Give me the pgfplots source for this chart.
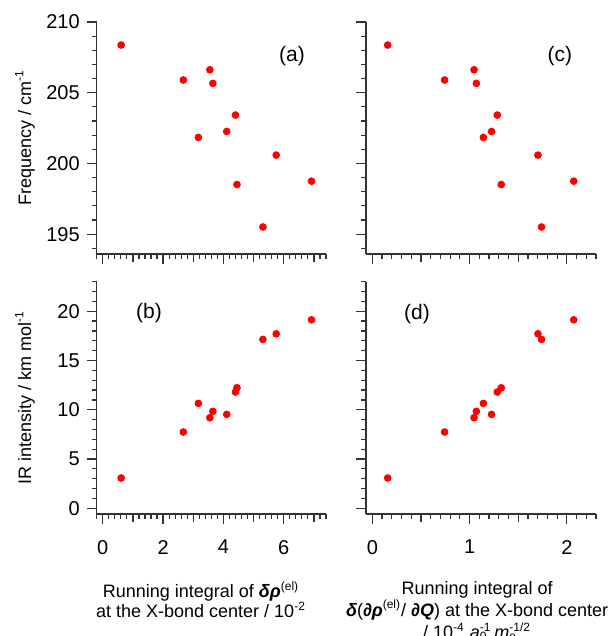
\documentclass[border=0pt]{standalone}
\usepackage{fontspec}
\setmainfont{Liberation Sans}
\usepackage{pgfplots}
\pgfplotsset{compat=1.18}
\usepackage{pgfplotstable}

% running integrals (two kinds), frequency, IR intensity
\pgfplotstableread{
xa   xc     freq    ir
0.61 0.158  208.37  3.07
2.67 0.743  205.90  7.74
3.17 1.142  201.84  10.65
3.55 1.046  206.62  9.19
3.65 1.070  205.66  9.84
4.11 1.226  202.26  9.53
4.40 1.285  203.42  11.80
4.45 1.326  198.51  12.23
5.31 1.740  195.51  17.14
5.75 1.703  200.59  17.71
6.92 2.071  198.75  19.13
}\data

\tikzset{letter/.style={font=\fontsize{10.5}{12}\selectfont}}

\pgfplotsset{
  panel/.style={
    scale only axis, anchor=south west, clip=false,
    axis x line*=bottom, axis y line*=left,
    x axis line style={-}, y axis line style={-},
    axis line style={line width=0.65pt, black!80},
    every tick/.style={line width=0.6pt, black!80},
    tick align=outside, major tick length=5pt, minor tick length=2.3pt,
    ticklabel style={font=\fontsize{10}{12}\selectfont},
    xticklabel style={yshift=-4.5pt},
    /pgf/number format/assume math mode=true,
    label style={font=\fontsize{9}{10}\selectfont},
  },
  leftx/.style={xmin=-0.2, xmax=7.4, xtick={0,2,4,6},
    minor xtick={-0.2,0,...,7.4},
    extra x ticks={1,3,5,7}, extra x tick labels={},
    extra x tick style={major tick length=4pt}},
  rightx/.style={xmin=-0.065, xmax=2.3, xtick={0,1,2},
    minor xtick={0,0.1,...,2.3},
    extra x ticks={0.5,1.5}, extra x tick labels={},
    extra x tick style={major tick length=4pt}},
  topy/.style={ymin=193.6, ymax=210, ytick={195,200,205,210},
    minor ytick={194,...,210}},
  boty/.style={ymin=-0.58, ymax=23, ytick={0,5,10,15,20},
    minor ytick={0,...,23}},
  dots/.style={only marks, mark=*, mark size=1.7pt, color=red,
    mark options={draw=red, fill=red}},
}

\begin{document}
\begin{tikzpicture}
\path[use as bounding box] (0,0) rectangle (307pt,318pt);

% (a)
\begin{axis}[panel, leftx, topy, at={(48.35pt,191pt)},
  width=114.65pt, height=116pt, xticklabels={},
  ylabel={Frequency / cm\textsuperscript{-1}},
  ylabel style={at={(axis description cs:-0.313,0.5)}, anchor=center}]
\addplot[dots] table[x=xa, y=freq] {\data};
\node[letter] at (axis description cs:0.852,0.853) {(a)};
\end{axis}

% (c)
\begin{axis}[panel, rightx, topy, at={(183pt,191pt)},
  width=115pt, height=116pt, xticklabels={}, yticklabels={}]
\addplot[dots] table[x=xc, y=freq] {\data};
\node[letter] at (axis description cs:0.843,0.853) {(c)};
\end{axis}

% (b)
\begin{axis}[panel, leftx, boty, at={(48.35pt,61pt)},
  width=114.65pt, height=116.15pt,
  ylabel={IR intensity / km mol\textsuperscript{-1}},
  ylabel style={at={(axis description cs:-0.313,0.5)}, anchor=center},
  xlabel={Running integral of {\bfseries\itshape δρ}\textsuperscript{(el)}\\at the X-bond center / 10\textsuperscript{-2}},
  xlabel style={at={(axis description cs:0.455,-0.26)}, anchor=north, align=center}]
\addplot[dots] table[x=xa, y=ir] {\data};
\node[letter] at (axis description cs:0.228,0.865) {(b)};
\end{axis}

% (d)
\begin{axis}[panel, rightx, boty, at={(183pt,61pt)},
  width=115pt, height=116.15pt, yticklabels={},
  xlabel={Running integral of\\{\bfseries\itshape δ}(\textbf{\textit{∂ρ}}\textsuperscript{(el)}/ \textbf{\textit{∂Q}}) at the X-bond center\\/ 10\textsuperscript{-4} \textit{a}\rlap{\textsubscript{0}}\textsuperscript{-1}\,\textit{m}\rlap{\textsubscript{e}}\textsuperscript{-1/2}},
  xlabel style={at={(axis description cs:0.483,-0.26)}, anchor=north, align=center}]
\addplot[dots] table[x=xc, y=ir] {\data};
\node[letter] at (axis description cs:0.222,0.861) {(d)};
\end{axis}
\end{tikzpicture}
\end{document}
